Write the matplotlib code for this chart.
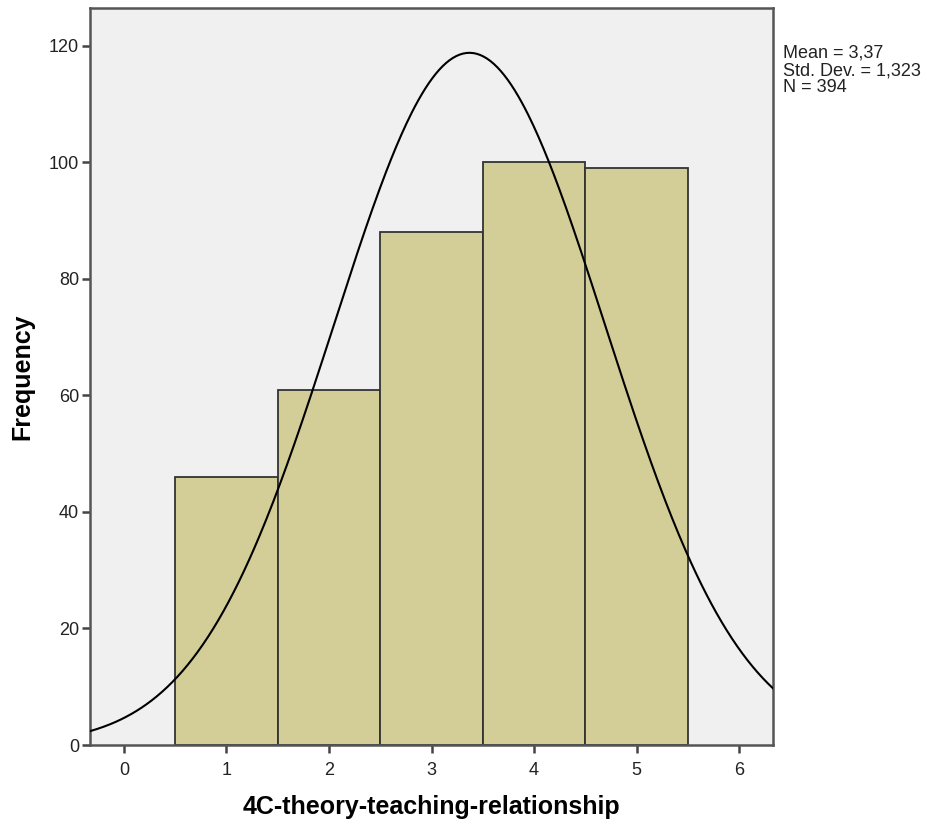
import numpy as np
import matplotlib.pyplot as plt

plt.rcParams['font.family'] = ['Liberation Sans', 'DejaVu Sans']

# dane
kategorie = [1, 2, 3, 4, 5]
czestosci = [46, 61, 88, 100, 99]
srednia = 3.37
odch = 1.323
N = 394
statystyki = ["Mean = 3,37", "Std. Dev. = 1,323", "N = 394"]

fig = plt.figure(figsize=(9.3, 8.25), dpi=100)
ax = fig.add_axes([90/930, 80/825, (773-90)/930, (745-8)/825])
ax.set_facecolor('#f0f0f0')

ax.bar(kategorie, czestosci, width=1.0, color='#d3ce97', edgecolor='#333333', linewidth=1.3, zorder=2)

# krzywa normalna skalowana do licznosci
xs = np.linspace(-0.33, 6.33, 400)
ys = N * 1.0 / (odch * np.sqrt(2*np.pi)) * np.exp(-0.5*((xs-srednia)/odch)**2)
ax.plot(xs, ys, color='black', lw=1.5, zorder=3)

ax.set_xlim(-0.33, 6.33)
ax.set_ylim(0, 126.5)
ax.set_xticks(range(0, 7))
ax.set_yticks(range(0, 121, 20))
for s in ax.spines.values():
    s.set_color('#555555')
    s.set_linewidth(1.8)
ax.tick_params(direction='out', length=6, width=1.8, color='#444444', labelsize=13, labelcolor='#222222')
ax.tick_params(axis='x', pad=6)
ax.tick_params(axis='y', pad=2)

ax.set_xlabel('4C-theory-teaching-relationship', fontsize=18, fontweight='bold', labelpad=12)
ax.set_ylabel('Frequency', fontsize=18, fontweight='bold', labelpad=10)

for i, t in enumerate(statystyki):
    fig.text(783/930, 1 - (53 + i*17.5)/825, t, fontsize=13, va='center', ha='left', color='#222222')

plt.savefig('out.png', dpi=100)
plt.close()
